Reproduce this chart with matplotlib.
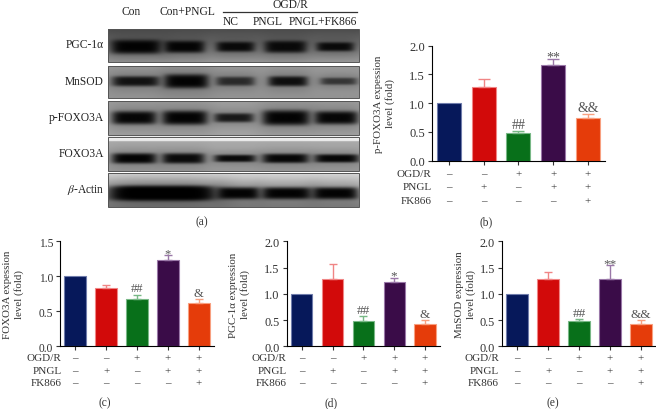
import matplotlib
matplotlib.use("Agg")
import matplotlib.pyplot as plt
import numpy as np
from matplotlib.patches import Rectangle

plt.rcParams["font.family"] = ["Liberation Serif", "DejaVu Serif"]
plt.rcParams["mathtext.fontset"] = "stix"

W, H = 656, 410

row_names = ["OGD/R", "PNGL", "FK866"]
row_signs = [["–", "–", "+", "+", "+"],
             ["–", "+", "–", "+", "+"],
             ["–", "–", "–", "–", "+"]]

bar_colors = ["#06185a", "#d20a0a", "#08701a", "#3a0c48", "#e53c0a"]
edge_colors = ["#6f7cab", "#f08585", "#78b886", "#9a78a8", "#f8a080"]

pfoxo_vals = [1.0, 1.28, 0.48, 1.66, 0.75]
pfoxo_errs = [0, 0.14, 0.04, 0.11, 0.07]
pfoxo_marks = ["", "", "##", "**", "&&"]

foxo_vals = [1.0, 0.83, 0.68, 1.23, 0.62]
foxo_errs = [0, 0.04, 0.06, 0.07, 0.05]
foxo_marks = ["", "", "##", "*", "&"]

pgc_vals = [1.0, 1.28, 0.49, 1.22, 0.43]
pgc_errs = [0, 0.29, 0.08, 0.09, 0.07]
pgc_marks = ["", "", "##", "*", "&"]

mnsod_vals = [1.0, 1.28, 0.48, 1.28, 0.43]
mnsod_errs = [0, 0.14, 0.04, 0.27, 0.07]
mnsod_marks = ["", "", "##", "**", "&&"]

# blot lanes in pixels: left, right of each band
lanes = [[(111, 161), (164, 204), (216, 254), (264, 306), (316, 353)],
         [(112, 159), (164, 208), (216, 254), (268, 307), (320, 356)],
         [(112, 156), (162, 207), (214, 253), (262, 309), (314, 357)],
         [(112, 156), (162, 204), (214, 255), (262, 308), (314, 358)],
         [(112, 212), (112, 212), (217, 259), (261, 311), (312, 357)]]
blot_names = ["PGC-1α", "MnSOD", "p-FOXO3A", "FOXO3A", r"$\beta$-Actin"]
blot_tops = [30, 67, 102, 138, 174]
blot_bottoms = [63, 99, 136, 172, 208]
band_rows = [47.5, 82, 118.5, 159.5, 194]
band_thick = [[7, 6, 5, 6, 4.5], [5, 7, 4.5, 5, 3.5], [6.5, 7, 4.5, 7.5, 6.5], [5, 5, 3.5, 4.5, 4], [7, 7, 6, 6, 6]]
band_dark = [[.97, .95, .9, .9, .9], [.85, .97, .65, .88, .55], [.95, .97, .8, .97, .95], [.97, .92, .92, .95, .95], [.97, .97, .97, .97, .97]]
blot_bg_top = [.30, .60, .62, .68, .85]
blot_bg_low = [.60, .58, .64, .60, .50]
blot_strip = [0, 0, 0, 5, 0]


def px_axes(left, right, top, bottom):
    return fig.add_axes([left / W, 1 - bottom / H, (right - left) / W, (bottom - top) / H])


def blot_image(i):
    top, bottom = blot_tops[i], blot_bottoms[i]
    xs = np.arange(108, 358.5, 0.5)
    ys = np.arange(top, bottom, 0.5)
    xx, yy = np.meshgrid(xs, ys)
    img = blot_bg_top[i] + (blot_bg_low[i] - blot_bg_top[i]) * (yy - top) / (bottom - top)
    if blot_strip[i]:
        img[yy < top + blot_strip[i]] = 0.93
    for j, (a, b) in enumerate(lanes[i]):
        t = band_thick[i][j]
        mid = (a + b) / 2
        half = (b - a) / 2
        prof_y = np.exp(-((yy - band_rows[i]) / t) ** 4)
        halo_y = np.exp(-((yy - band_rows[i]) / (t * 2)) ** 2)
        prof_x = np.exp(-(np.abs(xx - mid) / half) ** 6)
        halo_x = np.exp(-(np.abs(xx - mid) / (half * 1.25)) ** 4)
        img = img * (1 - 0.22 * halo_x * halo_y)
        img = img * (1 - band_dark[i][j] * prof_x * prof_y)
    return img


fig = plt.figure(figsize=(W / 100, H / 100), dpi=100)
page = fig.add_axes([0, 0, 1, 1])
page.axis("off")

for i, name in enumerate(blot_names):
    page.imshow(blot_image(i), cmap="gray", vmin=0, vmax=1, aspect="auto",
                extent=[108, 358.5, blot_bottoms[i], blot_tops[i]], interpolation="bilinear")
    page.add_patch(Rectangle((108, blot_tops[i]), 250.5, blot_bottoms[i] - blot_tops[i], fill=False,
                             edgecolor="#555555", linewidth=0.7))
    page.text(104, (blot_tops[i] + blot_bottoms[i]) / 2 - 1, name, ha="right", va="center",
              fontsize=8.3, color="#222222")
page.set_xlim(0, W)
page.set_ylim(H, 0)

page.text(131, 12, "Con", ha="center", va="center", fontsize=8.3, color="#222222")
page.text(187, 12, "Con+PNGL", ha="center", va="center", fontsize=8.3, color="#222222")
page.text(290, 5, "OGD/R", ha="center", va="center", fontsize=8.3, color="#222222")
page.plot([223, 357], [13, 13], color="#333333", lw=0.9)
page.text(231, 22, "NC", ha="center", va="center", fontsize=8.3, color="#222222")
page.text(268, 22, "PNGL", ha="center", va="center", fontsize=8.3, color="#222222")
page.text(323, 22, "PNGL+FK866", ha="center", va="center", fontsize=8.3, color="#222222")
page.text(202, 222, "(a)", ha="center", va="center", fontsize=8.3, color="#333333")


def bar_panel(vals, errs, marks, ylabel, ymax, yticks, left, right, top, bottom, label_x, label_y,
              row_right, row_steps, tag, tag_x, tag_y, tick_size, mark_size, cap):
    ax = px_axes(left, right, top, bottom)
    x = np.arange(5)
    ax.bar(x, vals, width=0.69, color=bar_colors, edgecolor=edge_colors, linewidth=0.8)
    for k in x:
        if errs[k] > 0:
            ax.errorbar(k, vals[k], yerr=[[0], [errs[k]]], color=edge_colors[k], elinewidth=1,
                        capsize=cap, capthick=1)
        # asterisks sit high in their line, pull them down onto the cap
        shift = -3 if marks[k].startswith("*") else 0
        ax.annotate(marks[k], (k, vals[k] + errs[k]), xytext=(0, shift), textcoords="offset points",
                    ha="center", va="bottom", fontsize=mark_size, color="#555555")
    ax.set_xlim(-0.49, 4.49)
    ax.set_ylim(0, ymax)
    ax.set_yticks(yticks)
    ax.set_yticklabels(["%.1f" % t for t in yticks], fontsize=tick_size, color="#333333")
    ax.set_xticks(x)
    ax.set_xticklabels([])
    ax.tick_params(axis="both", length=3, width=0.8, color="#333333", pad=2)
    ax.spines["top"].set_visible(False)
    ax.spines["right"].set_visible(False)
    ax.patch.set_alpha(0)
    page.text(label_x, label_y, ylabel, rotation=90, ha="center", va="center", fontsize=7.8,
              color="#333333", linespacing=1.33, multialignment="center")
    for r, name in enumerate(row_names):
        y_px = bottom + row_steps[r]
        page.text(row_right, y_px, name, ha="right", va="center", fontsize=8, color="#333333")
        for k in x:
            x_px = ax.transData.transform((k, 0))[0]
            page.text(x_px, y_px, row_signs[r][k], ha="center", va="center", fontsize=8, color="#333333")
    page.text(tag_x, tag_y, tag, ha="center", va="center", fontsize=8.3, color="#333333")
    return ax


bar_panel(pfoxo_vals, pfoxo_errs, pfoxo_marks, "p-FOXO3A expession\nlevel (fold)", 2.0,
          [0, 0.5, 1.0, 1.5, 2.0], 431.7, 605, 46.7, 161.7, 384.5, 104, 431.7, [13, 26, 39.6],
          "(b)", 485.7, 222, 9, 10, 4)
bar_panel(foxo_vals, foxo_errs, foxo_marks, "FOXO3A expession\nlevel (fold)", 1.5,
          [0, 0.5, 1.0, 1.5], 60, 214, 242.3, 347.3, 13.5, 295, 61.7, [11.7, 24, 36],
          "(c)", 105, 403, 8.3, 9, 3)
bar_panel(pgc_vals, pgc_errs, pgc_marks, "PGC-1α expression\nlevel (fold)", 2.0,
          [0, 0.5, 1.0, 1.5, 2.0], 286.7, 440, 242.3, 347.3, 239.5, 295, 286.7, [11.7, 24, 36],
          "(d)", 331, 403, 8.8, 9.5, 3.2)
bar_panel(mnsod_vals, mnsod_errs, mnsod_marks, "MnSOD expression\nlevel (fold)", 2.0,
          [0, 0.5, 1.0, 1.5, 2.0], 502, 656, 242.3, 347.3, 465.5, 295, 499, [11.7, 24, 36],
          "(e)", 552.7, 403, 8.8, 9.5, 3.2)

fig.savefig("out.png", dpi=100)
